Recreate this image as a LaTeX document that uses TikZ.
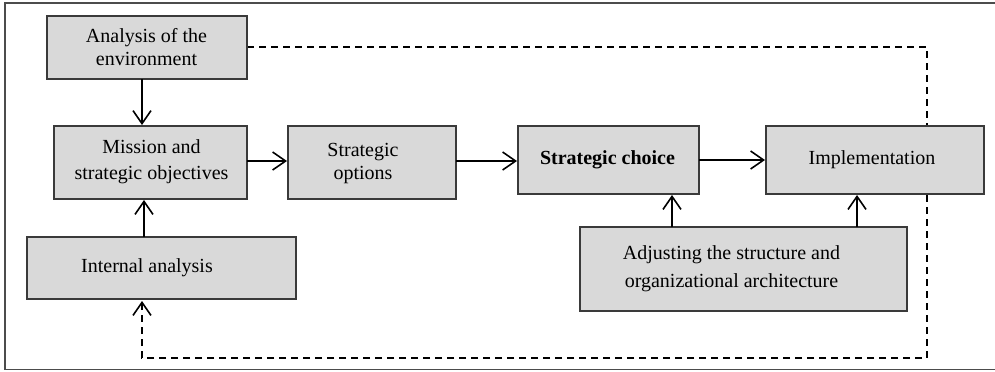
\documentclass[tikz,border=0pt]{standalone}
\usepackage{fontspec}
\setmainfont{Liberation Serif}
\usetikzlibrary{arrows.meta}
\definecolor{boxfill}{HTML}{D9D9D9}
\definecolor{boxline}{HTML}{3A3A3A}
\begin{document}
\begin{tikzpicture}[x=0.5pt,y=-0.5pt,
  block/.style={draw=boxline,fill=boxfill,line width=0.55pt},
  label/.style={font=\fontsize{10}{12}\selectfont,align=center,inner sep=0pt},
  flow/.style={line width=0.8pt,-{Straight Barb[length=6.5pt,width=9pt,line width=0.8pt]}},
  feedback/.style={flow,dash pattern=on 3.5pt off 2.5pt}]
\useasboundingbox (0,0) rectangle (995,371);
% outer frame (left, top, bottom)
\draw[line width=0.7pt,black!70] (995,3) -- (5,3) -- (5,369.5) -- (995,369.5);

% feedback loop from the environment analysis back to internal analysis
\coordinate (fbA) at (927,47);
\coordinate (fbB) at (927,358);
\coordinate (fbC) at (142,358);
\coordinate (fbStart) at (247,47);
\coordinate (fbEnd) at (142,301);
\draw[feedback] (fbStart) -- (fbA) -- (fbB) -- (fbC) -- (fbEnd);

% boxes
\draw[block] (47,16) rectangle (247,79);
\coordinate (envS) at (142,79);
\draw[block] (54,126) rectangle (247,199);
\coordinate (misN) at (142,125);
\coordinate (misS) at (144,200);
\coordinate (misE) at (247,161);
\draw[block] (27,237) rectangle (296,299);
\coordinate (intN) at (144,237);
\draw[block] (288,126) rectangle (456,199);
\coordinate (optW) at (287,161);
\coordinate (optE) at (456,161);
\draw[block] (518,126) rectangle (699,194);
\coordinate (choW) at (517,161);
\coordinate (choE) at (699,160);
\coordinate (choS) at (672,195);
\draw[block] (766,126) rectangle (984,194);
\coordinate (impW) at (765,160);
\coordinate (impS) at (857,195);
\draw[block] (580,227) rectangle (907,311);
\coordinate (adjNa) at (672,227);
\coordinate (adjNb) at (857,227);

% labels
\node[label,font=\fontsize{10}{11.5}\selectfont] (env) at (146.5,47.5) {Analysis of the\\environment};
\node[label,font=\fontsize{10}{13}\selectfont] (mis) at (151.5,162) {Mission and\\strategic objectives};
\node[label] (int) at (147,268) {Internal analysis};
\node[label,font=\fontsize{10}{11.5}\selectfont] (opt) at (363,163) {Strategic\\options};
\node[label,font=\fontsize{10}{12}\selectfont\bfseries] (cho) at (607.5,160) {Strategic choice};
\node[label] (imp) at (872,160) {Implementation};
\node[label,font=\fontsize{10}{14}\selectfont] (adj) at (731.5,269) {Adjusting the structure and\\organizational architecture};

% main flow
\draw[flow] (envS) -- (misN);
\draw[flow] (intN) -- (misS);
\draw[flow] (misE) -- (optW);
\draw[flow] (optE) -- (choW);
\draw[flow] (choE) -- (impW);
\draw[flow] (adjNa) -- (choS);
\draw[flow] (adjNb) -- (impS);
\end{tikzpicture}
\end{document}
